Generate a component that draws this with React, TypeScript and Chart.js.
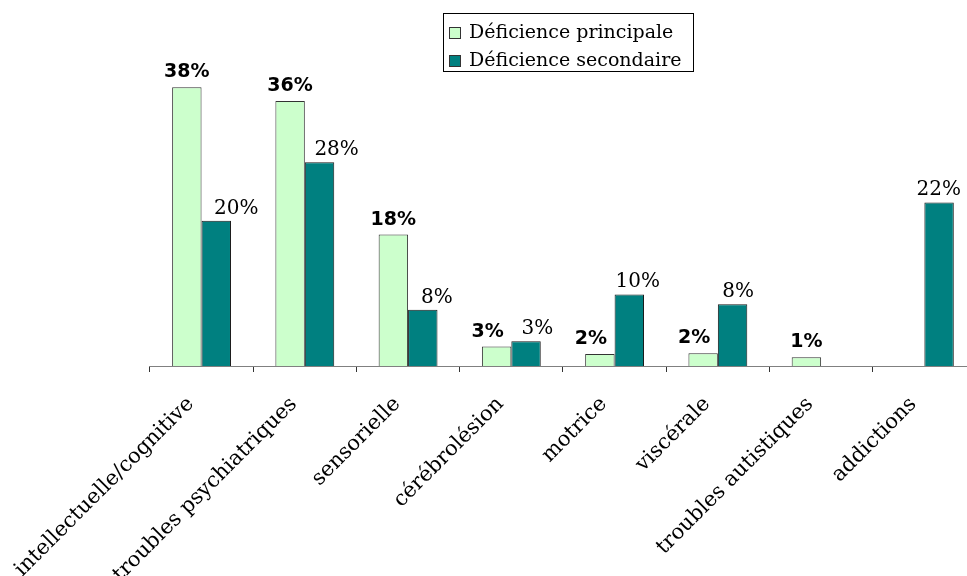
import { useEffect, useRef } from "react";
import { Chart, registerables } from "chart.js";

Chart.register(...registerables);

const categories = [
  "intellectuelle/cognitive",
  "troubles psychiatriques",
  "sensorielle",
  "cérébrolésion",
  "motrice",
  "viscérale",
  "troubles autistiques",
  "addictions",
];
const principal: (number | null)[] = [38.2, 36.3, 18.0, 2.66, 1.64, 1.74, 1.19, null];
const secondaire: (number | null)[] = [19.9, 27.9, 7.7, 3.38, 9.8, 8.45, null, 22.4];
const seriesNames = ["Déficience principale", "Déficience secondaire"];
const seriesColors = ["#CCFFCC", "#008080"];

const SERIF = "'DejaVu Serif', serif";
const SANS = "'DejaVu Sans', sans-serif";

export default function App() {
  const ref = useRef<HTMLCanvasElement>(null);

  useEffect(() => {
    document.body.style.margin = "0";
    const canvas = ref.current!;

    const labelsPlugin = {
      id: "valueLabels",
      afterDatasetsDraw(chart: any) {
        const ctx = chart.ctx;
        ctx.save();
        ctx.fillStyle = "#000";
        ctx.textAlign = "center";
        ctx.textBaseline = "alphabetic";
        const m0 = chart.getDatasetMeta(0);
        const m1 = chart.getDatasetMeta(1);
        m0.data.forEach((bar: any, i: number) => {
          const v = principal[i];
          if (v == null) return;
          const s = secondaire[i];
          const shift = s != null && s > v ? -9 : 0;
          ctx.font = `bold 19px ${SANS}`;
          ctx.fillText(`${Math.round(v)}%`, bar.x + shift, bar.y - 10);
        });
        m1.data.forEach((bar: any, i: number) => {
          const v = secondaire[i];
          if (v == null) return;
          const shift = 20 - 0.028 * (bar.x - 215);
          ctx.font = `20px ${SERIF}`;
          ctx.fillText(`${Math.round(v)}%`, bar.x + shift, bar.y - 7);
        });
        ctx.restore();
      },
    };

    const legendPlugin = {
      id: "boxLegend",
      afterDraw(chart: any) {
        const ctx = chart.ctx;
        ctx.save();
        ctx.fillStyle = "#fff";
        ctx.fillRect(443.5, 13.5, 250, 58);
        ctx.strokeStyle = "#000";
        ctx.lineWidth = 1;
        ctx.strokeRect(443.5, 13.5, 250, 58);
        const rows = [27.5, 55.5];
        const bases = [38, 66];
        seriesNames.forEach((name, i) => {
          ctx.fillStyle = seriesColors[i];
          ctx.fillRect(449.5, rows[i], 11, 11);
          ctx.strokeStyle = "#333";
          ctx.strokeRect(449.5, rows[i], 11, 11);
          ctx.fillStyle = "#000";
          ctx.font = `19px ${SERIF}`;
          ctx.textAlign = "left";
          ctx.textBaseline = "alphabetic";
          ctx.fillText(name, 469, bases[i]);
        });
        ctx.restore();
      },
    };

    const chart = new Chart(canvas, {
      type: "bar",
      data: {
        labels: categories,
        datasets: [
          {
            label: seriesNames[0],
            data: principal,
            backgroundColor: seriesColors[0],
            borderColor: "#333333",
            borderWidth: 1,
          },
          {
            label: seriesNames[1],
            data: secondaire,
            backgroundColor: seriesColors[1],
            borderColor: "#1a1a1a",
            borderWidth: 1,
          },
        ],
      },
      options: {
        responsive: false,
        animation: false,
        devicePixelRatio: 1,
        layout: { padding: { left: 149, right: 24, top: 74, bottom: 0 } },
        datasets: { bar: { categoryPercentage: 0.57, barPercentage: 1 } },
        plugins: {
          legend: { display: false },
          tooltip: { enabled: false },
        },
        scales: {
          x: {
            offset: true,
            grid: {
              display: true,
              drawOnChartArea: false,
              drawTicks: true,
              tickLength: 6,
              color: "#333333",
              offset: true,
            },
            border: { display: true, color: "#808080", width: 1 },
            ticks: {
              autoSkip: false,
              maxRotation: 45,
              minRotation: 45,
              padding: 20,
              labelOffset: -11,
              color: "#000",
              font: { family: SERIF, size: 21 },
            },
            afterFit: (s: any) => {
              s.height = 576 - 366;
            },
          },
          y: { display: false, min: 0, max: 40 },
        },
      },
      plugins: [labelsPlugin, legendPlugin],
    });
    return () => chart.destroy();
  }, []);

  return (
    <div style={{ width: 967, height: 576, overflow: "hidden", position: "relative" }}>
      <canvas ref={ref} width={1000} height={576} style={{ display: "block" }} />
    </div>
  );
}
